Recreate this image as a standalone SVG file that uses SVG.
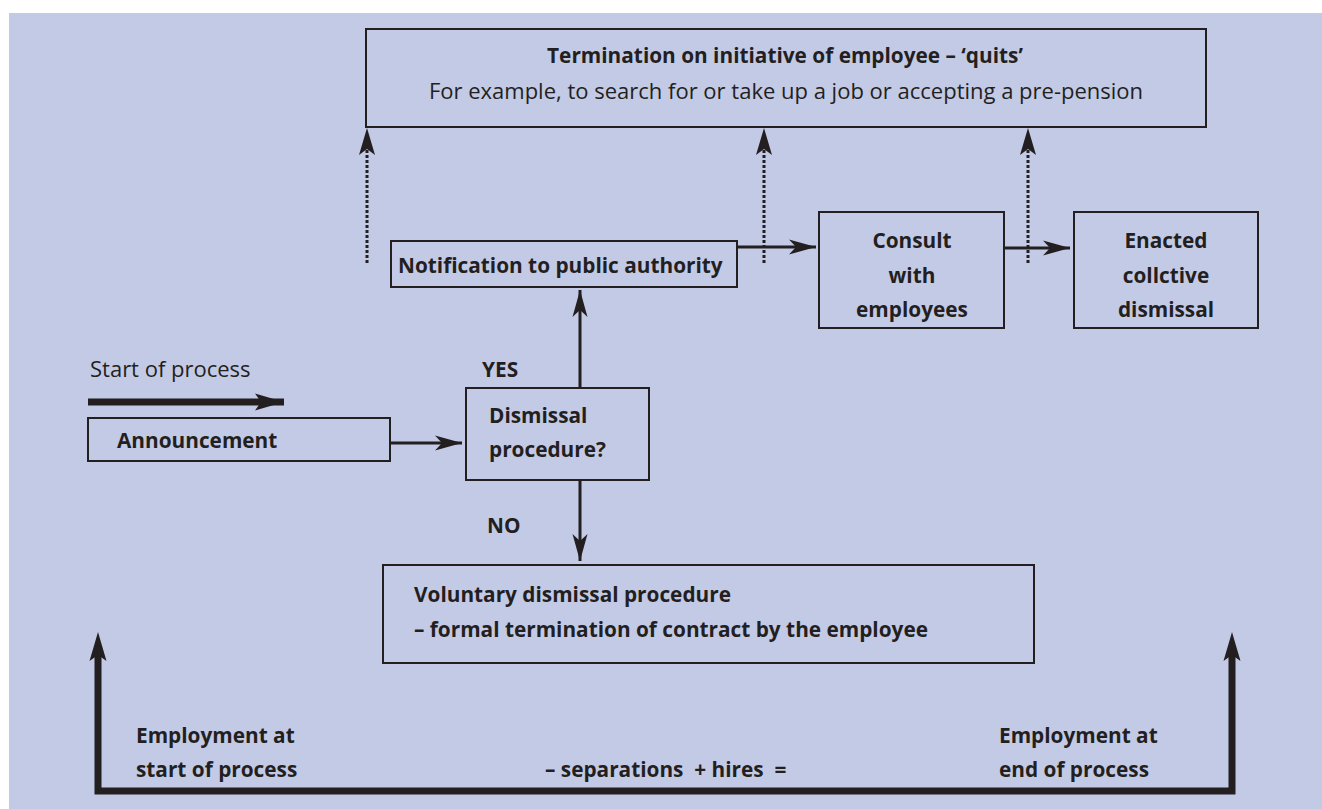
<svg xmlns="http://www.w3.org/2000/svg" width="1322" height="809" viewBox="0 0 1322 809">
<defs>
<style>
.bg{fill:#c3cae6}
.box{fill:none;stroke:#231f20;stroke-width:2}
.t{font-family:"Open Sans","Noto Sans","Liberation Sans",sans-serif;font-size:22px;fill:#231f20}
.b{font-weight:bold;font-size:20.8px}
.c{text-anchor:middle}
.ln{fill:none;stroke:#231f20;stroke-width:3}
.thick{fill:none;stroke:#231f20;stroke-width:7}
.dot{fill:none;stroke:#231f20;stroke-width:3;stroke-dasharray:3 2}
.hd{fill:#231f20}
</style>
<marker id="ah" markerUnits="userSpaceOnUse" viewBox="-28 -8 30 16" refX="0" refY="0" markerWidth="30" markerHeight="16" orient="auto">
<path d="M0,0 L-27,-7.5 L-20,0 L-27,7.5 Z" fill="#231f20"/>
</marker>
<marker id="ahb" markerUnits="userSpaceOnUse" viewBox="-32 -10 34 20" refX="0" refY="0" markerWidth="34" markerHeight="20" orient="auto">
<path d="M0,0 L-29,-8.5 L-23,0 L-29,8.5 Z" fill="#231f20"/>
</marker>
</defs>
<rect class="bg" x="9" y="13" width="1313" height="796"/>

<g id="connectors">
<line class="thick" x1="88" y1="402" x2="284" y2="402" marker-end="url(#ahb)"/>
<line class="ln" x1="390" y1="443" x2="462" y2="443" marker-end="url(#ah)"/>
<line class="ln" x1="580" y1="388" x2="580" y2="290" marker-end="url(#ah)"/>
<line class="ln" x1="580" y1="480" x2="580" y2="561" marker-end="url(#ah)"/>
<line class="ln" x1="737" y1="247" x2="816" y2="247" marker-end="url(#ah)"/>
<line class="ln" x1="1004" y1="248" x2="1070" y2="248" marker-end="url(#ah)"/>
<line class="dot" x1="367" y1="263" x2="367" y2="140"/>
<path class="hd" d="M367,128 L359,155 L367,149 L375,155 Z"/>
<line class="dot" x1="764" y1="263" x2="764" y2="140"/>
<path class="hd" d="M764,128 L756,155 L764,149 L772,155 Z"/>
<line class="dot" x1="1028" y1="263" x2="1028" y2="140"/>
<path class="hd" d="M1028,128 L1020,155 L1028,149 L1036,155 Z"/>
<path class="thick" d="M98,655 L98,791 L1232,791 L1232,655"/>
<path class="hd" d="M98,632 L89.5,661 L98,655 L106.5,661 Z"/>
<path class="hd" d="M1232,632 L1223.5,661 L1232,655 L1240.5,661 Z"/>
</g>

<g id="quits">
<rect class="box" x="366" y="29" width="840" height="98"/>
<text class="t b c" x="785" y="63">Termination on initiative of employee – ‘quits’</text>
<text class="t c" x="786" y="99">For example, to search for or take up a job or accepting a pre-pension</text>
</g>

<g id="notification">
<rect class="box" x="391" y="241" width="346" height="46"/>
<text class="t b" x="398" y="273">Notification to public authority</text>
</g>

<g id="consult">
<rect class="box" x="819" y="212" width="185" height="116"/>
<text class="t b c" x="912" y="248">Consult</text>
<text class="t b c" x="912" y="283">with</text>
<text class="t b c" x="912" y="317">employees</text>
</g>

<g id="enacted">
<rect class="box" x="1074" y="212" width="184" height="116"/>
<text class="t b c" x="1166" y="248">Enacted</text>
<text class="t b c" x="1166" y="283">collctive</text>
<text class="t b c" x="1166" y="317">dismissal</text>
</g>

<g id="start">
<text class="t" x="90" y="377">Start of process</text>
</g>

<g id="announcement">
<rect class="box" x="88" y="418" width="302" height="43"/>
<text class="t b" x="117" y="448">Announcement</text>
</g>

<g id="dismissal">
<rect class="box" x="466" y="388" width="183" height="92"/>
<text class="t b" x="489" y="423">Dismissal</text>
<text class="t b" x="489" y="457">procedure?</text>
</g>

<g id="labels">
<text class="t b" x="482" y="377">YES</text>
<text class="t b" x="487" y="533">NO</text>
</g>

<g id="voluntary">
<rect class="box" x="383" y="565" width="651" height="98"/>
<text class="t b" x="414" y="602">Voluntary dismissal procedure</text>
<text class="t b" x="414" y="637">– formal termination of contract by the employee</text>
</g>

<g id="employment-start">
<text class="t b" x="136" y="743">Employment at</text>
<text class="t b" x="136" y="777">start of process</text>
</g>

<g id="equation">
<text class="t b" x="545" y="777" xml:space="preserve">– separations  + hires  =</text>
</g>

<g id="employment-end">
<text class="t b" x="999" y="743">Employment at</text>
<text class="t b" x="999" y="777">end of process</text>
</g>
</svg>
